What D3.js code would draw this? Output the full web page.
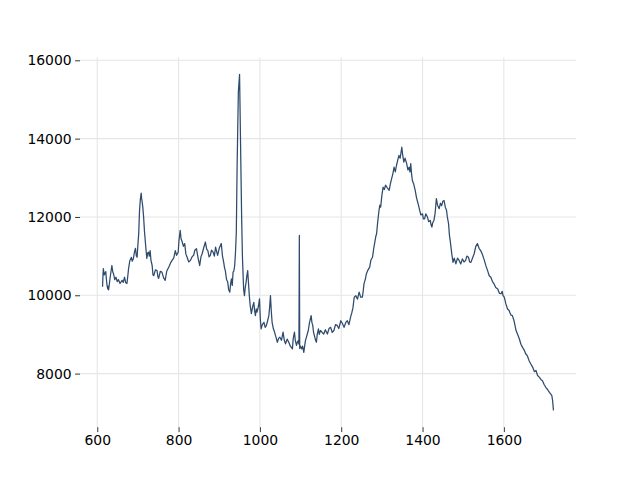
<!DOCTYPE html>
<html><head><meta charset="utf-8">
<script src="https://cdn.jsdelivr.net/npm/d3@7"></script>
<style>body{margin:0;background:#fff}svg{display:block}</style>
</head><body>
<svg id="c" width="640" height="480"></svg>
<script>
const wavenumber = [
613,614,615,617,620,621,622,624,626,627,628,632,636,638,640,643,646,649,652,656,661,664,667,670,673,675,677,680,684,686,689,691,694,696,698,700,702,703,704,706,708,709,710,712,714,716,718,720,722,724,726,728,730,732,735,737,739,743,747,749,751,755,759,763,767,771,776,780,784,788,792,795,799,801,804,806,809,812,815,818,821,825,829,833,837,840,
844,848,852,855,858,862,866,869,872,875,878,881,885,888,891,894,896,900,905,908,911,913,915,918,921,923,926,928,930,932,934,936,938,940,942,944,947,950,952,955,957,959,960,962,964,966,968,970,972,974,976,979,982,985,987,989,991,993,996,999,1001,1003,1006,1010,1013,1016,1019,1022,1024,1026,1028,1030,1033,1036,1039,1043,1046,1049,1053,1057,1060,1063,1067,1071,1075,1080,1082,1085,1087,1090,1092,1094,1096,1097,1098,1100,
1103,1105,1108,1110,1112,1115,1119,1122,1126,1128,1130,1132,1135,1137,1139,1141,1144,1146,1149,1153,1157,1161,1166,1170,1174,1178,1182,1186,1190,1194,1199,1203,1207,1211,1215,1219,1223,1226,1229,1232,1236,1240,1244,1248,1252,1254,1256,1259,1262,1266,1270,1273,1277,1280,1282,1285,1287,1290,1293,1295,1297,1300,1303,1306,1309,1313,1318,1321,1324,1327,1330,1333,1336,1339,1342,1345,
1349,1351,1354,1357,1361,1364,1367,1369,1371,1373,1375,1378,1382,1385,1387,1390,1393,1396,1400,1402,1405,1408,1412,1415,1419,1421,1423,1425,1428,1431,1434,1437,1441,1444,1447,1450,1453,1456,1459,1461,1464,1466,1469,1472,1475,1478,1482,1486,1490,1494,1498,1502,1506,1509,1513,1516,1519,1523,1527,1531,1535,1539,1543,1547,1552,1556,1560,1564,1568,1572,1576,1580,1585,1589,1593,1596,
1598,1601,1605,1609,1613,1617,1621,1625,1630,1634,1638,1642,1646,1650,1654,1658,1662,1666,1671,1675,1679,1683,1687,1691,1695,1699,1703,1707,1712,1715,1718,1720,1722
];
const intensity = [
10220,10500,10680,10520,10590,10600,10460,10250,10160,10230,10140,10480,10760,10600,10550,10400,10460,10350,10400,10300,10380,10330,10460,10320,10300,10480,10680,10880,10970,10870,10940,11080,11200,11010,10970,11300,11580,11900,12170,12450,12610,12480,12420,12250,12000,11650,11400,11150,10940,11080,11100,11000,11140,10900,10760,10520,10500,10650,10630,10480,10430,10610,10590,10450,10380,10620,10720,10820,10890,10950,11140,11020,11100,11400,11660,11450,11360,11250,11320,11050,10970,10850,10890,10980,11020,11150,
11190,10950,10760,10980,11060,11220,11360,11180,11140,10980,11020,11150,11100,11000,11230,11100,11020,11200,11320,11000,10840,10700,10630,10400,10330,10150,10080,10300,10420,10250,10590,10620,10760,11100,11610,13320,15190,15640,14170,12040,11000,10420,10150,9990,10200,10330,10500,10630,10300,9990,9750,9530,9700,9820,9600,9480,9650,9570,9700,9910,9400,9140,9250,9310,9180,9230,9350,9480,9700,9990,9600,9310,9150,9060,8950,8800,8900,8930,8850,9060,8850,8760,8880,8800,8700,8630,8900,9060,8850,8720,8800,8840,8750,11530,8640,8700,
8630,8700,8540,8700,8840,8950,9100,9300,9480,9300,9230,9050,8930,8850,8800,9000,9140,9000,9100,9050,9010,9120,9010,9150,9180,9050,9100,9250,9230,9150,9350,9280,9180,9300,9350,9250,9440,9550,9690,9950,9990,9900,10080,9950,9950,10100,10290,10400,10550,10650,10720,10900,10970,11200,11320,11500,11570,11900,12170,12300,12250,12550,12760,12700,12810,12750,12680,12850,12980,13100,13270,13150,13320,13450,13570,13500,
13780,13600,13400,13500,13360,13200,13270,13150,13360,13100,12930,12850,12680,12500,12420,12300,12170,12050,12080,11950,11950,12080,12000,11880,11910,11800,11740,11850,11910,12100,12470,12300,12210,12350,12290,12400,12420,12250,12170,12000,11830,11550,11320,11050,10840,10950,10800,10950,10890,10800,10930,10850,10890,11000,10970,10850,10840,10950,11060,11250,11320,11200,11140,11050,10890,10750,10630,10500,10460,10350,10290,10200,10160,10050,10040,10100,
9990,9950,9780,9650,9610,9500,9480,9350,9100,9000,8890,8750,8670,8600,8500,8450,8330,8250,8160,8050,8080,7950,7910,7850,7820,7720,7650,7600,7520,7480,7440,7300,7060
];
const xTicks = [600, 800, 1000, 1200, 1400, 1600];
const yTicks = [8000, 10000, 12000, 14000, 16000];

const L = 80, R = 576, T = 57.6, B = 427.2;
const xmin = d3.min(wavenumber), xmax = d3.max(wavenumber), dx = (xmax - xmin) * 0.05;
const ymin = d3.min(intensity), ymax = d3.max(intensity), dy = (ymax - ymin) * 0.05;
const x = d3.scaleLinear().domain([xmin - dx, xmax + dx]).range([L, R]);
const y = d3.scaleLinear().domain([ymin - dy, ymax + dy]).range([B, T]);

const svg = d3.select("#c");
const grid = svg.append("g");
grid.selectAll(".gx").data(xTicks).join("line")
  .attr("x1", d => x(d)).attr("x2", d => x(d)).attr("y1", T).attr("y2", B)
  .attr("stroke", "#e6e6e6").attr("stroke-width", 1.1);
grid.selectAll(".gy").data(yTicks).join("line")
  .attr("y1", d => y(d)).attr("y2", d => y(d)).attr("x1", L).attr("x2", R)
  .attr("stroke", "#e6e6e6").attr("stroke-width", 1.1);

const font = "DejaVu Sans";
const xa = svg.append("g").attr("transform", `translate(0,${B})`)
  .call(d3.axisBottom(x).tickValues(xTicks).tickFormat(d3.format("d")).tickSize(4.9).tickPadding(3.5));
const ya = svg.append("g").attr("transform", `translate(${L},0)`)
  .call(d3.axisLeft(y).tickValues(yTicks).tickFormat(d3.format("d")).tickSize(4.9).tickPadding(3.5));
[xa, ya].forEach(a => {
  a.select(".domain").remove();
  a.selectAll(".tick line").attr("stroke", "#000").attr("stroke-width", 0.8);
  a.selectAll(".tick text").attr("fill", "#000").style("font-family", font).style("font-size", "13.9px");
});

const pts = wavenumber.map((w, i) => [w, intensity[i]]);
svg.append("path").datum(pts)
  .attr("fill", "none").attr("stroke", "#2e4a6d").attr("stroke-width", 1.25)
  .attr("stroke-linejoin", "round")
  .attr("d", d3.line().x(d => x(d[0])).y(d => y(d[1])));
</script>
</body></html>
